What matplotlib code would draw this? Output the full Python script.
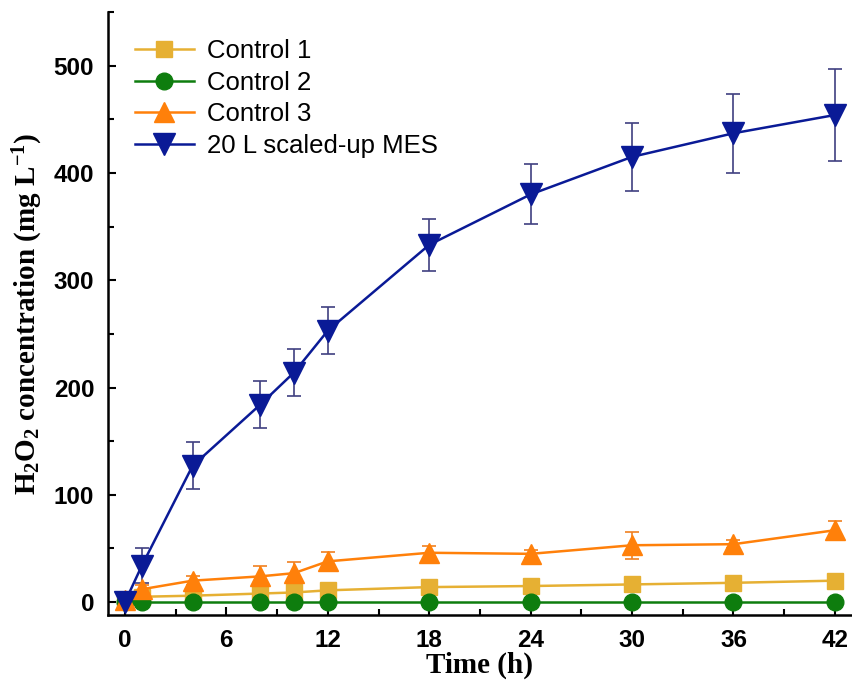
import matplotlib.pyplot as plt
from matplotlib.ticker import MultipleLocator

time_h = [0, 1, 4, 8, 10, 12, 18, 24, 30, 36, 42]

control1 = [2, 5, 6, 8, 9, 11, 14, 15, 16.5, 18, 20]
control1_err = [1, 1, 1.5, 2, 2, 2, 1.5, 1.5, 1.5, 1.5, 1.5]

control2 = [0, 0, 0, 0, 0, 0, 0, 0, 0, 0, 0]
control2_err = [0.5, 0.5, 0.5, 0.5, 0.5, 0.5, 0.5, 0.5, 0.5, 0.5, 0.5]

control3 = [2, 12, 20, 24, 27, 38, 46, 45, 53, 54, 67]
control3_err = [2, 4, 4, 10, 10, 9, 6, 4, 12.5, 4, 9]

mes = [0, 34, 127, 184, 214, 253, 333, 380, 415, 437, 454]
mes_err = [2, 16, 22, 22, 22, 22, 24, 28, 32, 37, 43]

plt.rcParams['font.family'] = 'Liberation Sans'
plt.rcParams['mathtext.fontset'] = 'custom'
plt.rcParams['mathtext.rm'] = 'Liberation Serif:bold'
plt.rcParams['mathtext.bf'] = 'Liberation Serif:bold'
plt.rcParams['mathtext.it'] = 'Liberation Serif:bold'
plt.rcParams['mathtext.default'] = 'bf'

fig = plt.figure(figsize=(8.52, 6.86), dpi=100)
ax = fig.add_axes([0.1268, 0.1035, 0.873, 0.879])

series = [
    (control1, control1_err, 'Control 1', '#E6B033', 's', 11.5, '#E6B033'),
    (control2, control2_err, 'Control 2', '#0E7D0E', 'o', 12, '#C8B040'),
    (control3, control3_err, 'Control 3', '#FF800A', '^', 15, '#F08020'),
    (mes, mes_err, '20 L scaled-up MES', '#0A1A96', 'v', 16, '#404080'),
]

handles = []
for vals, err, name, col, mk, ms, ecol in series:
    eb = ax.errorbar(time_h, vals, yerr=err, color=col, marker=mk, markersize=ms,
                     lw=1.8, ecolor=ecol, elinewidth=1.2, capsize=5, capthick=1.2,
                     label=name)
    handles.append(eb[0])

ax.set_xlim(-1, 43)
ax.set_ylim(-12, 550)
ax.xaxis.set_major_locator(MultipleLocator(6))
ax.xaxis.set_minor_locator(MultipleLocator(3))
ax.yaxis.set_major_locator(MultipleLocator(100))
ax.yaxis.set_minor_locator(MultipleLocator(50))
ax.tick_params(which='both', direction='in', width=1.5, labelsize=17.5, pad=10)
ax.tick_params(which='major', length=6)
ax.tick_params(which='minor', length=4)
plt.setp(ax.get_xticklabels() + ax.get_yticklabels(), fontweight='bold',
         fontfamily='Liberation Sans')

for side in ['top', 'right']:
    ax.spines[side].set_visible(False)
for side in ['left', 'bottom']:
    ax.spines[side].set_linewidth(1.8)

ax.set_xlabel('Time (h)', fontfamily='Liberation Serif', fontweight='bold',
              fontsize=21, labelpad=0)
ax.set_ylabel(r'H$_2$O$_2$ concentration (mg L$^{-1}$)',
              fontfamily='Liberation Serif', fontweight='bold', fontsize=21,
              labelpad=6)

ax.legend(handles, [s[2] for s in series], loc='upper left', frameon=False,
          fontsize=18.5, handlelength=2.3, labelspacing=0.3, handletextpad=0.5,
          borderaxespad=0.3, bbox_to_anchor=(0.012, 0.985))

fig.savefig('out.png', dpi=100)
